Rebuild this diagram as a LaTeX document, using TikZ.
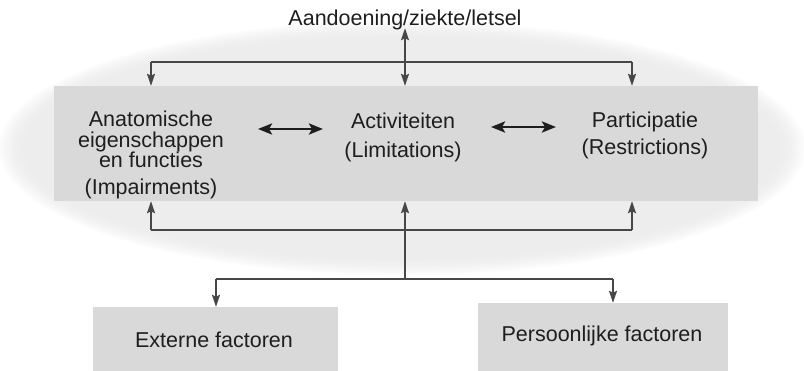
\documentclass[tikz,border=0pt]{standalone}
\usepackage{fontspec}
\setmainfont{Liberation Sans}
\usetikzlibrary{arrows.meta}
\definecolor{bandgray}{HTML}{D9D9D9}
\definecolor{halo}{HTML}{E8E8E8}
\definecolor{linegray}{HTML}{474747}
\definecolor{inkgray}{HTML}{1E1E1E}
\tikzset{
  lbl/.style={font=\fontsize{21.5}{20.5}\selectfont, text=inkgray, align=center, inner sep=0pt},
  panel/.style={fill=bandgray, draw=none, inner sep=0pt},
  conn/.style={draw=linegray, line width=1.7pt},
  arr/.style={conn, -{Stealth[length=12pt,width=8pt,inset=2pt]}},
  biarr/.style={conn, {Stealth[length=12pt,width=8pt,inset=2pt]}-{Stealth[length=12pt,width=8pt,inset=2pt]}},
  thickbi/.style={draw=inkgray, line width=2.8pt, {Stealth[length=14pt,width=11pt,inset=3pt]}-{Stealth[length=14pt,width=11pt,inset=3pt]}}
}
\begin{document}
\begin{tikzpicture}[x=1pt,y=-1pt]
  \useasboundingbox (0,0) rectangle (804,370);
  \clip (0,0) rectangle (804,370);
  \fill[white] (0,0) rectangle (804,370);

  % soft pale halo behind the model
  \foreach \k in {0,...,9}
    \fill[halo, opacity=0.10] (402,148) ellipse [x radius=380pt+\k*2.6pt, y radius=112pt+\k*1.7pt];

  % central band and the two factor boxes
  \node[panel, minimum width=704pt, minimum height=115pt] (band) at (406,143.5) {};
  \node[panel, minimum width=245pt, minimum height=68pt] (extbox) at (215.5,341) {};
  \node[panel, minimum width=250pt, minimum height=72pt] (persbox) at (603,339) {};

  % labels
  \node[lbl] (top) at (405,20) {Aandoening/ziekte/letsel};
  \node[lbl] (anat) at (151,155) {Anatomische\\eigenschappen\\en functies\\[6pt](Impairments)};
  \node[lbl, font=\fontsize{21.5}{29}\selectfont] (act) at (403,137) {Activiteiten\\(Limitations)};
  \node[lbl, font=\fontsize{21.5}{27}\selectfont] (part) at (645,135) {Participatie\\(Restrictions)};
  \node[lbl] (ext) at (214,340) {Externe factoren};
  \node[lbl] (pers) at (602,336) {Persoonlijke factoren};

  % junction points of the branching lines
  \coordinate (tl) at (151,62);
  \coordinate (tr) at (632,62);
  \coordinate (bl) at (151,230);
  \coordinate (br) at (632,230);
  \coordinate (hub) at (405,279);
  \coordinate (el) at (216,279);
  \coordinate (pr) at (613,279);

  % upper branch: condition to all three domains
  \draw[conn] (tl) -- (tr);
  \draw[arr] (tl) -- (tl |- band.north);
  \draw[arr] (tr) -- (tr |- band.north);
  \draw[biarr] ([yshift=2pt]top.south) -- (top.south |- band.north);

  % interactions between the domains
  \draw[thickbi] (258,129) -- (323,129);
  \draw[thickbi] (491,127) -- (556,127);

  % lower branch: context factors back to the domains
  \draw[conn] (bl) -- (br);
  \draw[arr] (bl) -- (bl |- band.south);
  \draw[arr] (br) -- (br |- band.south);
  \draw[arr] (hub) -- (hub |- band.south);
  \draw[conn] (el) -- (pr);
  \draw[arr] (el) -- (el |- extbox.north);
  \draw[arr] (pr) -- (pr |- persbox.north);
\end{tikzpicture}
\end{document}
